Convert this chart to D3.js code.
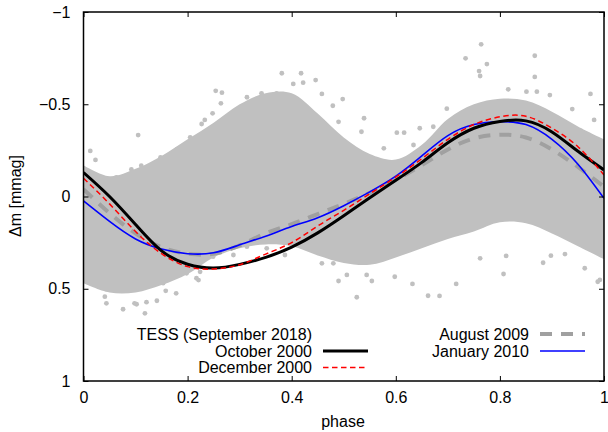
<!DOCTYPE html>
<html><head><meta charset="utf-8">
<script src="https://cdn.jsdelivr.net/npm/d3@7"></script>
<style>
body{margin:0;background:#fff}
text{font-family:"Liberation Sans",Arial,sans-serif;font-size:16px;fill:#000}
</style>
</head><body>
<svg id="chart" width="608" height="432"></svg>
<script>
// ---------- data ----------
const phaseGrid = [0,0.05,0.10,0.15,0.20,0.25,0.30,0.35,0.40,0.45,0.50,0.55,0.60,0.65,0.70,0.75,0.80,0.85,0.90,0.95,1.00];
const october2000  = [-0.13,0.00,0.152,0.295,0.367,0.388,0.368,0.33,0.274,0.197,0.104,0.007,-0.088,-0.185,-0.291,-0.37,-0.407,-0.41,-0.35,-0.245,-0.144];
const december2000 = [-0.099,0.04,0.19,0.31,0.38,0.393,0.37,0.312,0.25,0.16,0.075,-0.015,-0.105,-0.205,-0.31,-0.39,-0.432,-0.435,-0.37,-0.27,-0.117];
const august2009   = [-0.039,0.09,0.20,0.275,0.31,0.31,0.265,0.20,0.15,0.095,0.04,-0.02,-0.09,-0.17,-0.255,-0.315,-0.335,-0.32,-0.255,-0.16,-0.053];
const january2010  = [0.024,0.135,0.23,0.285,0.31,0.305,0.262,0.215,0.163,0.115,0.05,-0.025,-0.11,-0.22,-0.33,-0.39,-0.405,-0.39,-0.31,-0.175,0.01];

// TESS cloud: dense core envelope (upper = more negative) and sparse outlying points
const tessUpper = [-0.17,-0.11,-0.15,-0.22,-0.31,-0.40,-0.50,-0.56,-0.56,-0.45,-0.32,-0.23,-0.20,-0.28,-0.42,-0.50,-0.53,-0.52,-0.46,-0.38,-0.31];
const tessLower = [0.47,0.52,0.52,0.48,0.42,0.33,0.28,0.26,0.27,0.32,0.36,0.37,0.33,0.28,0.23,0.19,0.14,0.145,0.20,0.27,0.34];
const tessOutPhase = [0.764,0.734,0.775,0.760,0.762,0.867,0.867,0.616,0.974,0.816,0.851,0.871,0.896,0.939,0.981,0.698,0.672,0.646,
  0.381,0.418,0.446,0.403,0.422,0.254,0.266,0.264,0.248,0.233,0.227,0.205,0.498,0.479,0.490,0.539,0.534,0.602,0.577,0.634,0.192,0.458,0.342,0.371,0.314,
  0.013,0.023,0.105,0.092,0.063,0.148,0.111,0.180,
  0.076,0.118,0.041,0.044,0.098,0.178,0.153,0.217,0.005,0.102,0.121,0.141,0.158,0.221,
  0.525,0.490,0.554,0.632,0.662,0.684,0.716,0.988,0.458,0.506,0.544,0.598,0.387,0.198,0.480,
  0.807,0.883,0.812,0.762,0.963,0.992,0.898,0.925,
  0.237,0.262,0.281,0.314,0.352,0.249,0.288,0.224,0.211];
const tessOutDm = [-0.825,-0.749,-0.718,-0.680,-0.653,-0.763,-0.648,-0.346,-0.556,-0.581,-0.568,-0.568,-0.550,-0.474,-0.415,-0.476,-0.378,-0.370,
  -0.668,-0.668,-0.631,-0.610,-0.617,-0.573,-0.563,-0.505,-0.451,-0.415,-0.393,-0.321,-0.528,-0.492,-0.405,-0.424,-0.351,-0.346,-0.261,-0.279,-0.202,-0.556,-0.559,-0.559,-0.538,
  -0.247,-0.198,-0.333,-0.147,-0.104,-0.212,-0.167,-0.256,
  0.611,0.633,0.543,0.579,0.579,0.525,0.470,0.443,0.435,0.584,0.573,0.565,0.511,0.453,
  0.546,0.458,0.458,0.474,0.538,0.539,0.474,0.462,0.362,0.425,0.425,0.435,0.317,0.416,0.362,
  0.420,0.359,0.322,0.335,0.389,0.452,0.321,0.312,
  0.245,0.263,0.227,0.272,0.281,0.326,0.317,0.408,0.371];

const xTicks = [0,0.2,0.4,0.6,0.8,1];
const xTickLabels = ["0","0.2","0.4","0.6","0.8","1"];
const yTicks = [-1,-0.5,0,0.5,1];
const yTickLabels = ["\u22121","\u22120.5","0","0.5","1"];

const seriesNames = ["October 2000","December 2000","August 2009","January 2010"];
const seriesValues = [october2000, december2000, august2009, january2010];

// ---------- styles / layout ----------
const style = {
  "October 2000":  {stroke:"#000000", width:3,   dash:null},
  "December 2000": {stroke:"#ff0000", width:1.5, dash:"5.5,3.5"},
  "August 2009":   {stroke:"#a0a0a0", width:4,   dash:"12,9"},
  "January 2010":  {stroke:"#0000ff", width:1.6, dash:null}
};
const legendPos = {
  "TESS (September 2018)": {tx:312, ty:334, sx0:null},
  "October 2000":  {tx:312, ty:351, sx0:323, sx1:368},
  "December 2000": {tx:312, ty:367.5, sx0:323, sx1:368},
  "August 2009":   {tx:529, ty:334, sx0:540, sx1:585},
  "January 2010":  {tx:529, ty:351, sx0:540, sx1:585}
};
const legendOrder = ["TESS (September 2018)","October 2000","December 2000","August 2009","January 2010"];

const L = 83.5, R = 604, T = 12, B = 381;
const svg = d3.select("#chart");
const x = d3.scaleLinear().domain([0,1]).range([L,R]);
const y = d3.scaleLinear().domain([-1,1]).range([T,B]);

svg.append("defs").append("clipPath").attr("id","clip")
  .append("rect").attr("x",L).attr("y",T).attr("width",R-L).attr("height",B-T);

const plot = svg.append("g").attr("clip-path","url(#clip)");
const gray = "#c0c0c0";

// dense core of TESS points
const env = phaseGrid.map((p,i)=>({p, lo:tessUpper[i], hi:tessLower[i]}));
plot.append("path").datum(env)
  .attr("fill",gray)
  .attr("d", d3.area().x(d=>x(d.p)).y0(d=>y(d.lo)).y1(d=>y(d.hi)).curve(d3.curveCatmullRom));
// sparse TESS points
plot.selectAll("circle.out").data(tessOutPhase.map((p,i)=>({p, v:tessOutDm[i]})))
  .enter().append("circle").attr("class","out")
  .attr("cx",d=>x(d.p)).attr("cy",d=>y(d.v)).attr("r",2.4).attr("fill",gray);

// fitted curves
const line = d3.line().x(d=>x(d.p)).y(d=>y(d.v)).curve(d3.curveNatural);
const drawOrder = ["August 2009","January 2010","October 2000","December 2000"];
drawOrder.forEach(name=>{
  const vals = seriesValues[seriesNames.indexOf(name)];
  const s = style[name];
  plot.append("path").datum(phaseGrid.map((p,i)=>({p, v:vals[i]})))
    .attr("fill","none").attr("stroke",s.stroke).attr("stroke-width",s.width)
    .attr("stroke-dasharray",s.dash).attr("d",line);
});

// axes with inward ticks on all four sides
const fmtX = (d)=>xTickLabels[xTicks.indexOf(d)];
const fmtY = (d)=>yTickLabels[yTicks.indexOf(d)];
const gb = svg.append("g").attr("transform",`translate(0,${B})`)
  .call(d3.axisBottom(x).tickValues(xTicks).tickFormat(fmtX).tickSizeInner(-5).tickSizeOuter(0).tickPadding(11));
const gl = svg.append("g").attr("transform",`translate(${L},0)`)
  .call(d3.axisLeft(y).tickValues(yTicks).tickFormat(fmtY).tickSizeInner(-5).tickSizeOuter(0).tickPadding(13));
const gt = svg.append("g").attr("transform",`translate(0,${T})`)
  .call(d3.axisTop(x).tickValues(xTicks).tickFormat("").tickSizeInner(-5).tickSizeOuter(0));
const gr = svg.append("g").attr("transform",`translate(${R},0)`)
  .call(d3.axisRight(y).tickValues(yTicks).tickFormat("").tickSizeInner(-5).tickSizeOuter(0));
[gb,gl,gt,gr].forEach(g=>{
  g.select(".domain").remove();
  g.selectAll(".tick line").attr("stroke","#000").attr("stroke-width",1);
  g.selectAll("text").attr("font-size",16).attr("font-family",'"Liberation Sans",Arial,sans-serif').attr("fill","#000");
});
svg.append("rect").attr("x",L).attr("y",T).attr("width",R-L).attr("height",B-T)
  .attr("fill","none").attr("stroke","#000").attr("stroke-width",1.5);

// axis titles
svg.append("text").attr("x",343).attr("y",427).attr("text-anchor","middle").text("phase");
svg.append("text").attr("transform","translate(21,196) rotate(-90)").attr("text-anchor","middle").text("\u0394m [mmag]");

// legend
legendOrder.forEach(name=>{
  const p = legendPos[name];
  svg.append("text").attr("x",p.tx).attr("y",p.ty).attr("dy","0.35em").attr("text-anchor","end").text(name);
  if (p.sx0 != null) {
    const s = style[name];
    svg.append("line").attr("x1",p.sx0).attr("x2",p.sx1).attr("y1",p.ty).attr("y2",p.ty)
      .attr("stroke",s.stroke).attr("stroke-width",s.width).attr("stroke-dasharray",s.dash);
  }
});
</script>
</body></html>
